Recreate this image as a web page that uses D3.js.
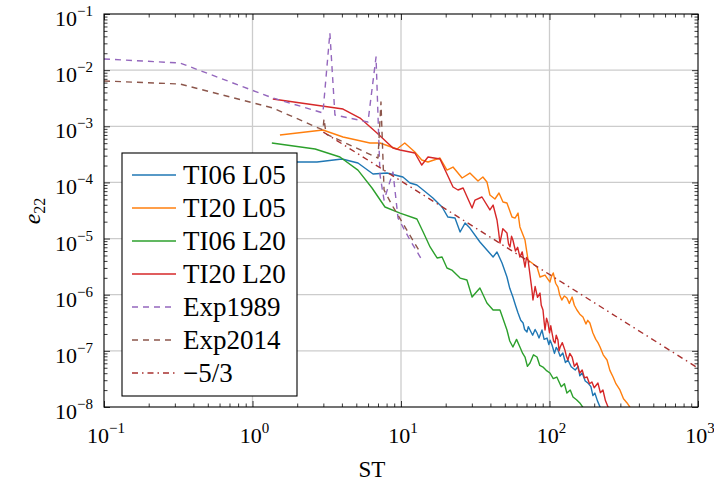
<!DOCTYPE html>
<html>
<head>
<meta charset="utf-8">
<script src="https://cdn.jsdelivr.net/npm/d3@7"></script>
<style>
  body { margin: 0; background: #fff; }
  svg { display: block; font-family: "Liberation Serif", "Times New Roman", serif; }
</style>
</head>
<body>
<svg id="chart" width="714" height="486"></svg>
<script>
// data: [ST, e22]
var ti06L05 = [[1.37,2.31e-4],[2.0,2.31e-4],[2.72,2.31e-4],[4.01,2.61e-4],[5.13,2.22e-4],[6.48,1.41e-4],[8.05,1.47e-4],[10.3,1.25e-4],
  [11.5,9.77e-5],[12.8,9.0e-5],[14.1,7.33e-5],[16.4,5.28e-5],[18.9,3.65e-5],[20.7,2.42e-5],[23.1,2.32e-5],[25.0,1.31e-5],[27.0,1.89e-5],
  [29.1,1.54e-5],[34.0,8.68e-6],[37.9,6.26e-6],[41.7,4.70e-6],[44.3,5.77e-6],[47.9,3.67e-6],[51.7,2.07e-6],[54,1.3e-6],[56.7,9.09e-7],
  [59,6.5e-7],[61.4,4.72e-7],[64,3.5e-7],[66.4,3.13e-7],[68,2.4e-7],[70.5,2.17e-7],[72,2.7e-7],[73.9,2.35e-7],[77,1.9e-7],[80,2.4e-7],
  [82.4,2.08e-7],[85,1.7e-7],[89,2.35e-7],[92,1.6e-7],[96.2,1.69e-7],[99,1.3e-7],[101,1.55e-7],[104,1.27e-7],[108,9e-8],[111,1.15e-7],
  [114,1.03e-7],[118,8e-8],[123,9.15e-8],[128,6.2e-8],[133,6.87e-8],[140,5.2e-8],[149,4.56e-8],[156,5.3e-8],[160,3.6e-8],[166,4.03e-8],
  [174,2.9e-8],[182,2.67e-8],[190,2.3e-8],[196,1.6e-8],[202,1.77e-8],[210,1.3e-8],[219,1.0e-8],[223,8e-9]];
var ti20L05 = [[1.53,7.0e-4],[2.98,8.59e-4],[4.07,6.44e-4],[6.18,5.04e-4],[7.22,5.04e-4],[9.40,3.94e-4],[10.6,5.04e-4],[12.4,3.48e-4],
  [13.8,2.51e-4],[15.2,2.31e-4],[18.3,2.72e-4],[20.4,1.66e-4],[22.4,1.88e-4],[25.8,1.20e-4],[29.1,1.47e-4],[33.0,1.06e-4],[35.6,1.25e-4],
  [37.9,1.02e-4],[39.7,5.97e-5],[42.9,5.07e-5],[45.7,6.48e-5],[48.6,4.48e-5],[51.7,4.30e-5],[55.9,2.42e-5],[58.6,2.32e-5],[61.4,2.85e-5],
  [63.2,1.61e-5],[68.4,9.42e-6],[71.7,4.15e-6],[76.2,3.67e-6],[82.4,3.11e-6],[86.3,2.07e-6],[93.3,2.24e-6],[100.7,1.68e-6],[103,2.1e-6],
  [106,2.44e-6],[110,1.6e-6],[114,1.37e-6],[117,1.0e-6],[121,8.05e-7],[126,9.5e-7],[131,8.73e-7],[136,7e-7],[142,9.09e-7],[147,6.5e-7],
  [153,5.34e-7],[160,4.5e-7],[168,4.0e-7],[176,3.0e-7],[181,3.5e-7],[187,3.13e-7],[196,2.08e-7],[205,1.6e-7],[212,1.4e-7],[219,1.17e-7],
  [230,8.5e-8],[244,6.87e-8],[255,4.5e-8],[268,3.42e-8],[280,2.6e-8],[298,2.01e-8],[315,1.4e-8],[333,1.18e-8],[359,8.8e-9]];
var ti06L20 = [[1.35,5.04e-4],[2.64,3.94e-4],[3.88,2.84e-4],[5.13,1.66e-4],[6.38,7.96e-5],[7.80,3.65e-5],[9.85,2.85e-5],[12.8,2.23e-5],
  [14.1,1.31e-5],[15.7,7.08e-6],[17.5,4.51e-6],[18.9,4.70e-6],[20.4,2.99e-6],[22.0,2.75e-6],[25.0,1.98e-6],[27.8,1.83e-6],[30.1,9.09e-7],
  [34.0,1.32e-6],[37.9,7.12e-7],[41.7,5.34e-7],[46.4,5.34e-7],[51.7,2.35e-7],[54,1.5e-7],[56.7,1.17e-7],[60,1.6e-7],[63.2,1.17e-7],
  [66,9e-8],[68.4,7.77e-8],[71,5.3e-8],[73.9,6.07e-8],[78,8.5e-8],[82.4,7.77e-8],[86,5.5e-8],[90.4,5.15e-8],[95,4.5e-8],[100.7,4.03e-8],
  [106,3.2e-8],[112,3.42e-8],[120,2.3e-8],[126,2.6e-8],[131,1.77e-8],[138,2.0e-8],[144,1.51e-8],[152,1.35e-8],[160,1.18e-8],[173,8.8e-9]];
var ti20L20 = [[1.37,3.06e-3],[4.07,2.03e-3],[5.30,1.40e-3],[6.89,7.59e-4],[8.83,4.10e-4],[9.85,3.78e-4],[12.4,3.34e-4],[13.8,2.04e-4],
  [15.2,2.84e-4],[18.3,2.61e-4],[22.4,8.29e-5],[24.2,7.33e-5],[26.2,7.96e-5],[30.1,3.50e-5],[31.5,4.86e-5],[35.1,5.50e-5],[39.7,3.23e-5],
  [41.7,3.96e-5],[44.3,2.14e-5],[45.3,1.4e-5],[46.4,8.34e-6],[48.5,1.5e-5],[51.7,1.26e-5],[53,8e-6],[54.2,7.08e-6],[55.5,1.1e-5],
  [56.7,9.42e-6],[59,6e-6],[61,7e-6],[63.2,4.70e-6],[65.5,5.8e-6],[68.4,3.11e-6],[70,4.6e-6],[71.7,4.15e-6],[74,2.2e-6],[76.2,1.21e-6],
  [77.4,8.05e-7],[80,1.4e-6],[83,9e-7],[86.3,1.07e-6],[88,6.5e-7],[90.4,5.34e-7],[92,3.3e-7],[93.3,2.35e-7],[95.5,3.8e-7],[97.7,3.13e-7],
  [100,2.1e-7],[102,2.8e-7],[104,2.08e-7],[106.5,1.5e-7],[109,1.38e-7],[111,1.9e-7],[114,1.56e-7],[116,1.0e-7],[118,1.17e-7],[122,1.4e-7],
  [127,1.03e-7],[130,8e-8],[133,6.87e-8],[137,9e-8],[142,7.77e-8],[147,5.3e-8],[153,6.07e-8],[157,4.6e-8],[160,4.03e-8],[166,4.56e-8],
  [172,3.3e-8],[179,3.42e-8],[186,2.6e-8],[193,2.79e-8],[200,2.2e-8],[212,2.67e-8],[220,1.8e-8],[229,2.01e-8],[238,1.3e-8],[248,1.0e-8],
  [255,8e-9]];
var exp1989 = [[0.1,0.0158],[0.325,0.0134],[1.37,3.19e-3],[2.98,1.73e-3],[3.32,0.0459],[3.59,1.59e-3],[5.99,1.19e-3],[6.79,0.0171],
  [7.22,1.36e-4],[7.69,4.86e-5],[8.83,1.53e-4],[9.55,2.32e-5],[11.5,9.42e-6],[14.1,3.82e-6]];
var exp2014 = [[0.1,6.41e-3],[0.325,5.66e-3],[1.37,2.12e-3],[2.98,8.59e-4],[3.03,1.35e-3],[3.13,7.29e-4],[7.0,2.72e-4],[7.33,2.71e-3],
  [7.69,7.33e-5],[8.69,3.96e-5],[13.4,5.77e-6]];
var slope53 = [[3,7.9e-4],[1000,4.94e-8]];

var seriesNames = ["TI06 L05", "TI20 L05", "TI06 L20", "TI20 L20", "Exp1989", "Exp2014", "\u22125/3"];
var xTicks = [0.1, 1, 10, 100, 1000];
var xExp = ["\u22121", "0", "1", "2", "3"];
var yTicks = [1e-8, 1e-7, 1e-6, 1e-5, 1e-4, 1e-3, 1e-2, 1e-1];
var yExp = ["\u22128", "\u22127", "\u22126", "\u22125", "\u22124", "\u22123", "\u22122", "\u22121"];

(function() {
  var series = [
    { data: ti06L05, color: "#1f77b4", dash: null },
    { data: ti20L05, color: "#ff7f0e", dash: null },
    { data: ti06L20, color: "#2ca02c", dash: null },
    { data: ti20L20, color: "#d62728", dash: null },
    { data: exp1989, color: "#9467bd", dash: "6,5" },
    { data: exp2014, color: "#8c564b", dash: "6,5" },
    { data: slope53, color: "#a8312f", dash: "6,4,1.5,4" }
  ];

  var svg = d3.select("#chart");
  var mLeft = 104, mRight = 698, mTop = 14, mBottom = 407;

  var x = d3.scaleLog().domain([0.1, 1000]).range([mLeft, mRight]);
  var y = d3.scaleLog().domain([1e-8, 1e-1]).range([mBottom, mTop]);

  function minors(ticks) {
    var out = [];
    ticks.slice(0, -1).forEach(function(t) {
      for (var k = 2; k < 10; k++) out.push(t * k);
    });
    return out;
  }

  // grid
  var grid = svg.append("g").attr("stroke", "#cccccc").attr("stroke-width", 1.3);
  grid.selectAll(".gx").data(xTicks.slice(1, -1)).enter().append("line")
    .attr("x1", function(d) { return x(d); }).attr("x2", function(d) { return x(d); })
    .attr("y1", mTop).attr("y2", mBottom);
  grid.selectAll(".gy").data(yTicks.slice(1, -1)).enter().append("line")
    .attr("y1", function(d) { return y(d); }).attr("y2", function(d) { return y(d); })
    .attr("x1", mLeft).attr("x2", mRight);

  // lines
  svg.append("clipPath").attr("id", "clip").append("rect")
    .attr("x", mLeft).attr("y", mTop).attr("width", mRight - mLeft).attr("height", mBottom - mTop);

  var line = d3.line()
    .x(function(d) { return x(d[0]); })
    .y(function(d) { return y(d[1]); });

  var plot = svg.append("g").attr("clip-path", "url(#clip)");
  series.forEach(function(s) {
    plot.append("path")
      .datum(s.data)
      .attr("d", line)
      .attr("fill", "none")
      .attr("stroke", s.color)
      .attr("stroke-width", 1.4)
      .attr("stroke-linejoin", "round")
      .attr("stroke-dasharray", s.dash);
  });

  // axes, ticks pointing inwards on all four sides
  function styleAxis(g) {
    g.select(".domain").remove();
    g.selectAll(".tick line").attr("stroke", "#222").attr("stroke-width", 0.9);
    g.selectAll(".tick text").remove();
  }
  var axes = [
    [d3.axisBottom(x), "translate(0," + mBottom + ")", xTicks],
    [d3.axisTop(x), "translate(0," + mTop + ")", xTicks],
    [d3.axisLeft(y), "translate(" + mLeft + ",0)", yTicks],
    [d3.axisRight(y), "translate(" + mRight + ",0)", yTicks]
  ];
  axes.forEach(function(a) {
    svg.append("g").attr("transform", a[1])
      .call(a[0].tickValues(a[2]).tickSize(-6).tickFormat(""))
      .call(styleAxis);
    svg.append("g").attr("transform", a[1])
      .call(a[0].tickValues(minors(a[2])).tickSize(-3.5).tickFormat(""))
      .call(styleAxis);
  });

  svg.append("rect")
    .attr("x", mLeft).attr("y", mTop).attr("width", mRight - mLeft).attr("height", mBottom - mTop)
    .attr("fill", "none").attr("stroke", "#000").attr("stroke-width", 1.1);

  // tick labels
  var xl = svg.append("g").attr("font-size", 22).attr("text-anchor", "middle");
  xTicks.forEach(function(t, i) {
    var tx = xl.append("text").attr("x", x(t) + 2).attr("y", 443);
    tx.append("tspan").text("10");
    tx.append("tspan").attr("dy", -10).attr("font-size", 15).text(xExp[i]);
  });
  var yl = svg.append("g").attr("font-size", 22).attr("text-anchor", "end");
  yTicks.forEach(function(t, i) {
    var ty = yl.append("text").attr("x", 93).attr("y", y(t) + 12);
    ty.append("tspan").text("10");
    ty.append("tspan").attr("dy", -10).attr("font-size", 15).text(yExp[i]);
  });

  // axis titles
  svg.append("text").attr("x", 372).attr("y", 477).attr("text-anchor", "middle")
    .attr("font-size", 23).text("ST");
  var yt = svg.append("text").attr("transform", "translate(40,211) rotate(-90)")
    .attr("text-anchor", "middle").attr("font-size", 24);
  yt.append("tspan").attr("font-style", "italic").text("e");
  yt.append("tspan").attr("dy", 5).attr("font-size", 16).text("22");

  // legend
  var lg = svg.append("g").attr("transform", "translate(122,153)");
  lg.append("rect").attr("width", 175).attr("height", 243)
    .attr("fill", "#fff").attr("stroke", "#000").attr("stroke-width", 1.1);
  series.forEach(function(s, i) {
    var cy = 22 + i * 33;
    lg.append("line").attr("x1", 10).attr("x2", 54).attr("y1", cy).attr("y2", cy)
      .attr("stroke", s.color).attr("stroke-width", 1.4).attr("stroke-dasharray", s.dash);
    lg.append("text").attr("x", 61).attr("y", cy + 9).attr("font-size", 27).text(seriesNames[i]);
  });
})();
</script>
</body>
</html>
